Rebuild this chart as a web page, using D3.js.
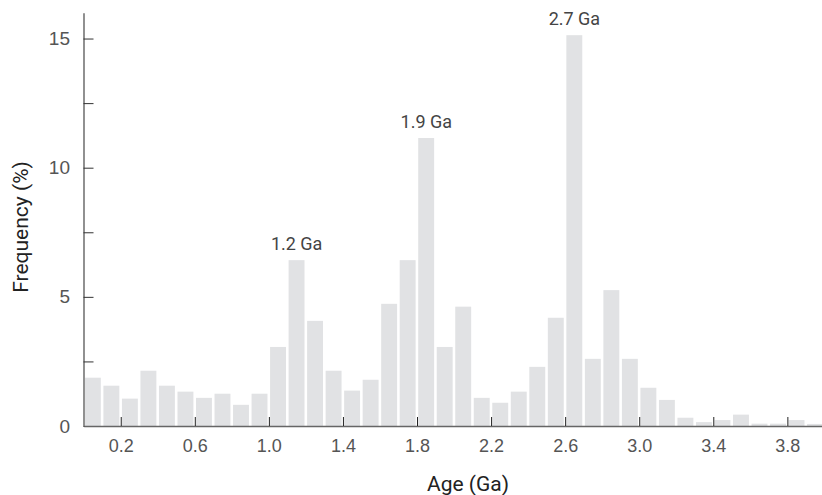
<!DOCTYPE html>
<html>
<head>
<meta charset="utf-8">
<script src="https://cdn.jsdelivr.net/npm/d3@7"></script>
<style>
html,body{margin:0;padding:0;background:#fff;}
svg{display:block;font-family:Roboto,"Noto Sans",sans-serif;}
</style>
</head>
<body>
<svg id="chart" width="822" height="495"></svg>
<script>
// Bin start ages (Ga), bin width 0.1
const binStarts = d3.range(40).map(i => +(i * 0.1).toFixed(1));
const frequency = [1.87,1.56,1.06,2.14,1.56,1.33,1.09,1.25,0.82,1.25,
                   3.06,6.42,4.07,2.14,1.37,1.79,4.73,6.42,11.15,3.06,
                   4.62,1.09,0.90,1.33,2.29,4.19,15.13,2.60,5.26,2.60,
                   1.48,1.01,0.32,0.15,0.23,0.44,0.09,0.09,0.23,0.08];
const xTicks = [0.2,0.6,1.0,1.4,1.8,2.2,2.6,3.0,3.4,3.8];
const yTicks = [0,2.5,5,7.5,10,12.5,15];
const yLabels = [0,5,10,15];
const peaks = [{age:1.1,label:"1.2 Ga"},{age:1.8,label:"1.9 Ga"},{age:2.6,label:"2.7 Ga"}];
const binWidth = 0.1;

const svg = d3.select("#chart");
const x = d3.scaleLinear().domain([0,4.0]).range([83.7,824.4]);
const y = d3.scaleLinear().domain([0,16]).range([426,12.7]);

const data = binStarts.map((s,i)=>({x0:s,x1:s+binWidth,v:frequency[i]}));

svg.append("g").selectAll("rect").data(data).join("rect")
  .attr("x", d => x(d.x0)+1.2)
  .attr("width", d => x(d.x1)-x(d.x0)-2.6)
  .attr("y", d => y(d.v))
  .attr("height", d => y(0)-y(d.v))
  .attr("fill", "#e1e2e4");

// Y axis
const yAxis = d3.axisLeft(y).tickValues(yTicks)
  .tickSizeInner(-10).tickSizeOuter(0).tickPadding(13.5)
  .tickFormat(d => yLabels.includes(d) ? d3.format("d")(d) : "");
const gy = svg.append("g").attr("transform","translate(83.5,0)").call(yAxis);
gy.select(".domain").attr("stroke","#555").attr("stroke-width",1.3);
gy.selectAll(".tick line").attr("stroke","#333");
gy.selectAll(".tick text").attr("fill","#555").style("font-size","19px").style("font-weight","400");

// X axis
const xAxis = d3.axisBottom(x).tickValues(xTicks)
  .tickSizeInner(-9).tickSizeOuter(0).tickPadding(13)
  .tickFormat(d3.format(".1f"));
const gx = svg.append("g").attr("transform","translate(0,426)").call(xAxis);
gx.select(".domain").attr("stroke","#666").attr("stroke-width",1.3);
gx.selectAll(".tick line").attr("stroke","#222");
gx.selectAll(".tick text").attr("fill","#555").style("font-size","18px").style("font-weight","400");

// Peak annotations
svg.append("g").selectAll("text").data(peaks).join("text")
  .attr("x", d => x(d.age + binWidth/2))
  .attr("y", d => y(frequency[binStarts.indexOf(d.age)]) - 10)
  .attr("text-anchor","middle")
  .attr("fill","#444")
  .style("font-size","18px")
  .text(d => d.label);

// Axis titles
svg.append("text").attr("x",468).attr("y",491)
  .attr("text-anchor","middle").attr("fill","#222")
  .style("font-size","21px").text("Age (Ga)");
svg.append("text").attr("transform","translate(27.5,227) rotate(-90)")
  .attr("text-anchor","middle").attr("fill","#222")
  .style("font-size","21px").text("Frequency (%)");
</script>
</body>
</html>
